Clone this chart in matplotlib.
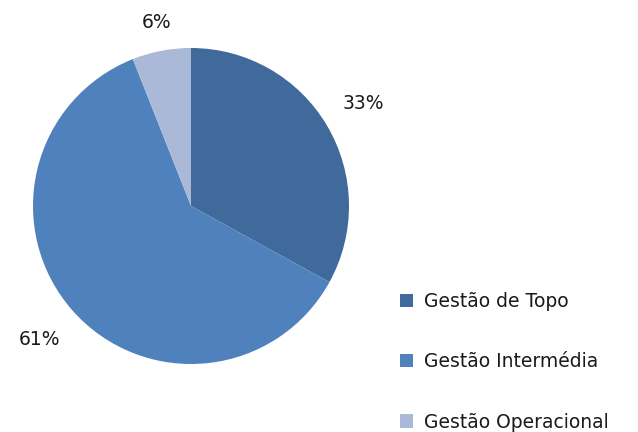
import matplotlib
matplotlib.use("Agg")
import matplotlib.pyplot as plt
import numpy as np
from matplotlib.patches import Patch

categories = ["Gestão de Topo", "Gestão Intermédia", "Gestão Operacional"]
values = [33, 61, 6]
colors = ["#406A9C", "#4F81BD", "#AAB9D7"]
label_dist = [1.27, 1.28, 1.18]

plt.rcParams['font.family'] = ['DejaVu Sans']

fig = plt.figure(figsize=(6.38, 4.32), dpi=100)
r = 158
cx, cy = 191, 432 - 206
ax = fig.add_axes([(cx - r) / 638, (cy - r) / 432, 2 * r / 638, 2 * r / 432])
wedges, _ = ax.pie(values, colors=colors, startangle=90, counterclock=False,
                   radius=1, wedgeprops=dict(linewidth=0))
for w, v, d in zip(wedges, values, label_dist):
    ang = np.deg2rad((w.theta1 + w.theta2) / 2)
    ax.text(d * np.cos(ang), d * np.sin(ang), f"{v}%", ha="center", va="center",
            fontsize=13.5, color="#1a1a1a")
ax.set_xlim(-1, 1)
ax.set_ylim(-1, 1)
ax.set_aspect("equal")
ax.axis("off")

handles = [Patch(facecolor=c, edgecolor="none") for c in colors]
fig.legend(handles, categories, loc="upper left", bbox_to_anchor=(400 / 638, 1 - 292 / 432),
           frameon=False, fontsize=13.5, labelspacing=2.2, handlelength=0.7, handleheight=0.7,
           handletextpad=0.6, borderpad=0, borderaxespad=0, labelcolor="#1a1a1a")

fig.savefig("out.png", dpi=100)
